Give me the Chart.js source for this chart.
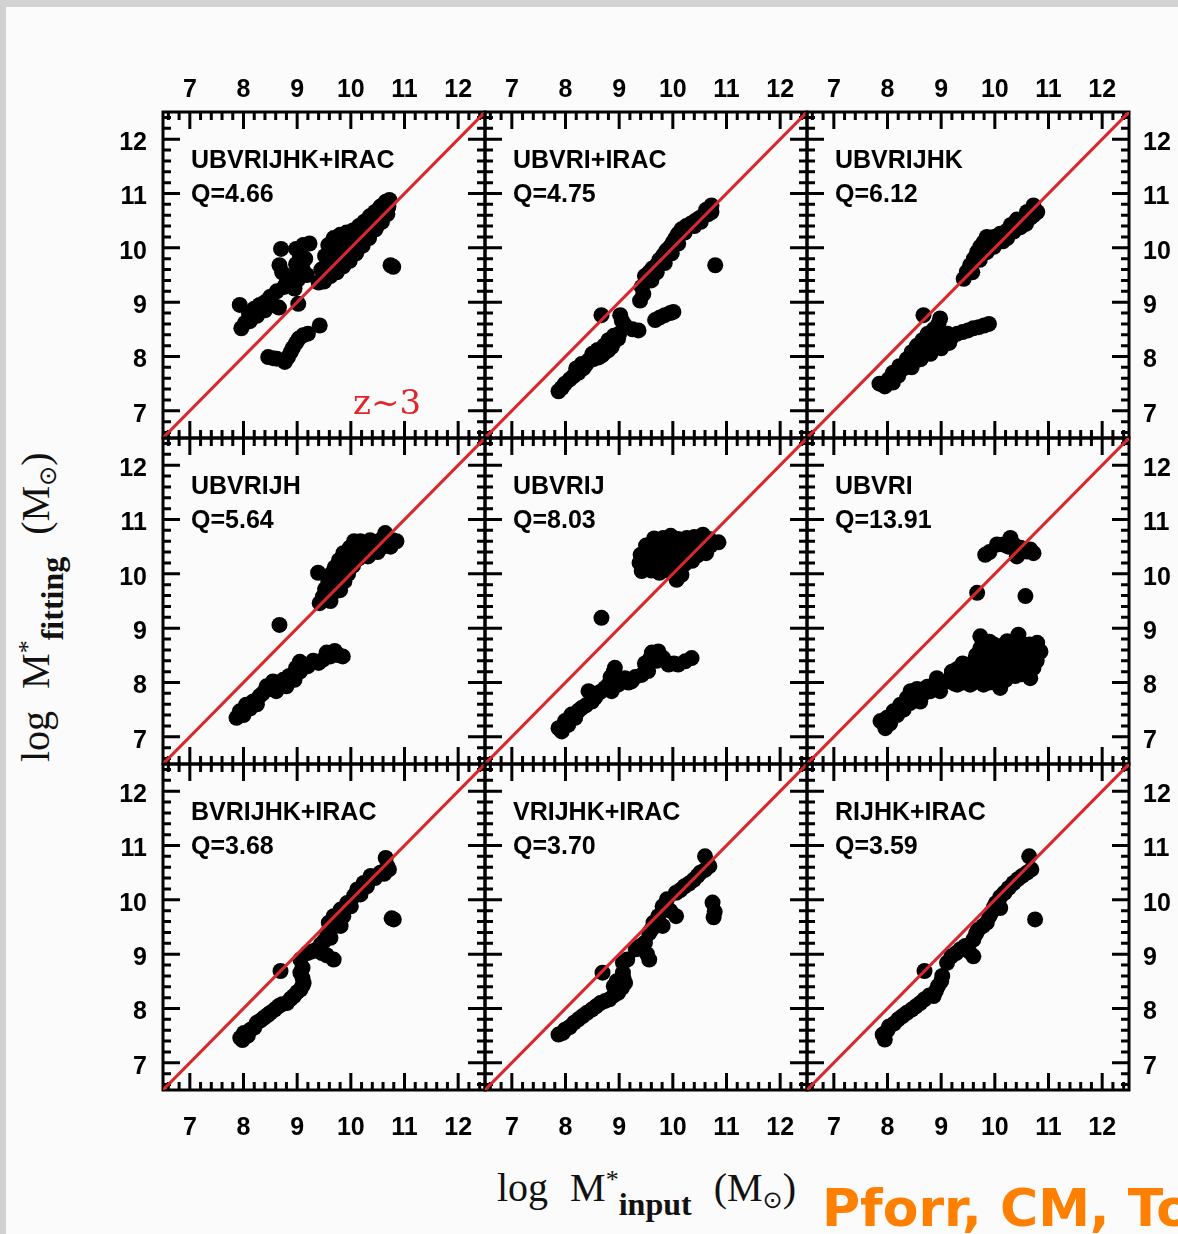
<!DOCTYPE html>
<html>
<head>
<meta charset="utf-8">
<script src="https://cdn.jsdelivr.net/npm/chart.js@4.4.1/dist/chart.umd.min.js"></script>
<style>
  html, body { margin: 0; padding: 0; }
  body { width: 1178px; height: 1234px; background: #d2d2d2; position: relative; overflow: hidden; }
  #sheet { position: absolute; left: 6px; top: 7px; width: 1172px; height: 1227px; background: #fbfbfb; }
  canvas { position: absolute; }
  .axtitle { position: absolute; font-family: 'Liberation Serif', 'Times New Roman', serif; font-size: 40px; line-height: 40px; word-spacing: 12px; color: #111; white-space: nowrap; }
  .axtitle .sup { font-size: 26px; line-height: 0; vertical-align: 13px; }
  .axtitle .sub { font-size: 32px; line-height: 0; vertical-align: -14px; font-weight: bold; }
  .axtitle .sun { font-family: 'DejaVu Sans', sans-serif; font-size: 24px; font-weight: normal; vertical-align: -7px; }
  #xtitle { left: 497px; top: 1168px; }
  #ytitle { left: 16px; top: 762px; transform: rotate(-90deg); transform-origin: 0 0; }
  #credit { position: absolute; left: 822px; top: 1182px; font-family: 'DejaVu Sans', sans-serif; font-weight: bold; font-size: 52px; line-height: 52px; color: #ff7f00; white-space: nowrap; }
</style>
</head>
<body>
<div id="sheet"></div>
<div id="xtitle" class="axtitle">log M<span class="sup">*</span><span class="sub">input</span> (M<span class="sub sun">⊙</span>)</div>
<div id="ytitle" class="axtitle">log M<span class="sup">*</span><span class="sub">fitting</span> (M<span class="sub sun">⊙</span>)</div>
<div id="credit">Pforr, CM, Tonini</div>
<script>
// axis ticks (log M, both axes)
const xTicks = [7, 8, 9, 10, 11, 12];
const yTicks = [7, 8, 9, 10, 11, 12];
const minorTicks = [6.6, 6.8, 7.2, 7.4, 7.6, 7.8, 8.2, 8.4, 8.6, 8.8, 9.2, 9.4, 9.6, 9.8,
  10.2, 10.4, 10.6, 10.8, 11.2, 11.4, 11.6, 11.8, 12.2, 12.4];
const axisMin = 6.5, axisMax = 12.5;
const oneToOne = [6.5, 12.5];

// filter sets and quality values, row by row
const filterSets = ['UBVRIJHK+IRAC', 'UBVRI+IRAC', 'UBVRIJHK',
  'UBVRIJH', 'UBVRIJ', 'UBVRI',
  'BVRIJHK+IRAC', 'VRIJHK+IRAC', 'RIJHK+IRAC'];
const qValues = ['4.66', '4.75', '6.12', '5.64', '8.03', '13.91', '3.68', '3.70', '3.59'];

// [log M* input, log M* fitting] pairs
const p1 = [
  [9.45,9.60],[9.52,9.85],[9.58,10.05],[9.68,10.18],[9.80,10.24],[9.92,10.28],[10.04,10.32],[10.15,10.40],[10.25,10.48],[10.35,10.58],
  [10.45,10.66],[10.55,10.76],[10.65,10.85],[10.72,10.88],[9.40,9.36],[9.50,9.50],[9.60,9.72],[9.70,9.92],[9.80,10.04],[9.92,10.12],
  [10.04,10.18],[10.15,10.26],[10.28,10.36],[10.40,10.46],[10.52,10.56],[10.62,10.66],[10.70,10.76],[9.50,9.38],[9.62,9.48],[9.74,9.55],
  [9.86,9.66],[9.98,9.76],[10.10,9.90],[10.22,10.04],[10.34,10.18],[10.46,10.34],[10.58,10.48],[10.68,10.62],[9.62,9.58],[9.75,9.78],
  [9.88,9.90],[10.00,9.98],[10.12,10.08],[10.25,10.20],[10.38,10.30],[10.50,10.42],[10.79,9.65],[10.74,9.68],
  [8.70,9.98],[8.67,9.68],[8.72,9.55],[8.98,9.98],[9.11,10.05],[9.23,10.08],[9.05,9.85],[9.15,9.80],[8.98,9.70],[9.10,9.62],
  [9.18,9.50],[9.02,9.42],[8.90,9.48],[8.80,9.35],[8.95,9.25],[8.76,9.28],[8.62,9.20],[8.50,9.10],[8.40,9.00],[8.30,8.95],
  [8.20,8.88],[8.10,8.80],[8.25,8.75],[8.12,8.65],[7.93,8.95],[7.96,8.52],[8.03,8.62],[8.40,8.85],[8.55,8.95],[8.66,8.90],
  [9.02,8.97],[9.42,8.57],[9.20,8.42],[9.11,8.39],[9.03,8.33],[8.98,8.25],[8.92,8.16],[8.88,8.08],[8.83,7.99],[8.77,7.90],
  [8.46,7.99],[8.55,7.97],[8.62,7.96]
];
const p2 = [
  [9.39,9.03],[9.45,9.15],[9.42,9.28],[9.50,9.38],[9.48,9.48],[9.56,9.55],[9.62,9.62],[9.70,9.68],[9.75,9.78],[9.82,9.86],
  [9.88,9.95],[9.95,10.02],[10.00,10.10],[10.05,10.18],[10.10,10.26],[10.16,10.34],[10.25,10.40],[10.34,10.45],[10.42,10.50],[10.50,10.55],
  [10.58,10.60],[10.66,10.62],[10.72,10.66],[10.72,10.78],[10.62,10.70],[10.52,10.48],[10.40,10.40],[10.22,10.28],[9.60,9.40],[9.70,9.55],
  [9.85,9.72],[9.98,9.90],[10.10,10.08],[10.79,9.68],
  [8.67,8.76],[9.02,8.76],[9.05,8.66],[9.11,8.57],[9.25,8.50],[9.36,8.48],[9.67,8.67],[9.76,8.72],[9.85,8.76],[9.95,8.80],
  [10.01,8.82],[9.00,8.42],[8.98,8.33],[8.90,8.26],[8.86,8.18],[8.80,8.12],[8.74,8.08],[8.68,8.02],[8.61,7.98],[8.52,7.95],
  [8.43,7.93],[8.38,7.85],[8.33,7.78],[8.24,7.70],[8.15,7.64],[8.08,7.58],[7.99,7.50],[7.93,7.42],[7.87,7.36],[8.72,8.20],
  [8.60,8.12],[8.50,8.05],[8.80,8.30],[8.90,8.38],[8.30,7.86],[8.20,7.78]
];
const p3 = [
  [9.42,9.43],[9.48,9.56],[9.54,9.68],[9.58,9.55],[9.61,9.80],[9.67,9.92],[9.72,9.78],[9.73,10.02],[9.79,10.10],[9.85,9.92],
  [9.85,10.20],[9.92,10.05],[9.98,10.20],[9.98,10.02],[10.05,10.15],[10.10,10.26],[10.15,10.12],[10.23,10.32],[10.23,10.18],[10.30,10.42],
  [10.35,10.30],[10.41,10.52],[10.48,10.38],[10.54,10.54],[10.58,10.44],[10.66,10.55],[10.60,10.66],[10.72,10.78],[10.79,10.66],[10.72,10.60],
  [7.85,7.50],[7.95,7.45],[8.02,7.58],[8.10,7.52],[8.10,7.70],[8.20,7.65],[8.22,7.82],[8.30,7.78],[8.36,7.95],[8.42,7.88],
  [8.45,8.08],[8.52,8.00],[8.55,8.20],[8.62,8.12],[8.65,8.30],[8.72,8.22],[8.75,8.42],[8.82,8.35],[8.86,8.50],[8.92,8.28],
  [8.95,8.60],[9.00,8.45],[9.05,8.35],[8.67,8.76],[8.98,8.70],[9.12,8.42],[9.20,8.36],[9.30,8.42],[9.40,8.45],[9.50,8.48],
  [9.60,8.52],[9.70,8.54],[9.80,8.57],[9.89,8.60],[9.00,8.15],[8.80,8.05],[8.62,7.95],[8.45,7.80],[9.15,8.25]
];
const p4 = [
  [9.39,10.02],[9.42,9.46],[9.48,9.58],[9.52,9.72],[9.58,9.86],[9.62,9.50],[9.64,10.00],[9.68,9.66],[9.70,10.12],[9.72,9.82],
  [9.76,9.96],[9.78,10.25],[9.80,9.70],[9.84,10.10],[9.86,10.38],[9.88,9.86],[9.92,10.22],[9.95,10.00],[9.98,10.48],[10.00,10.34],
  [10.04,10.15],[10.06,10.60],[10.10,10.46],[10.14,10.28],[10.18,10.60],[10.22,10.40],[10.28,10.55],[10.32,10.32],[10.36,10.62],[10.40,10.46],
  [10.46,10.58],[10.50,10.40],[10.55,10.62],[10.60,10.50],[10.64,10.75],[10.70,10.58],[10.78,10.62],[10.85,10.60],[10.74,10.50],
  [8.67,9.06],
  [7.87,7.35],[7.93,7.47],[8.00,7.40],[8.05,7.59],[8.12,7.52],[8.18,7.65],[8.25,7.60],[8.30,7.75],[8.36,7.80],[8.43,7.93],
  [8.50,7.88],[8.55,8.02],[8.61,7.84],[8.66,7.98],[8.74,8.05],[8.80,7.93],[8.85,8.12],[8.92,8.14],[8.98,8.27],[9.05,8.20],
  [9.11,8.33],[9.20,8.30],[9.30,8.40],[9.40,8.36],[9.48,8.42],[9.55,8.55],[9.62,8.48],[9.70,8.58],[9.78,8.50],[9.85,8.48],
  [9.05,8.38],[8.95,8.05]
];
const p5 = [
  [9.65,10.65],[9.82,10.66],[9.96,10.70],[10.10,10.64],[10.26,10.66],[10.40,10.68],[10.56,10.72],[10.68,10.64],
  [9.50,10.52],[9.64,10.48],[9.80,10.52],[9.94,10.46],[10.12,10.52],[10.26,10.48],[10.40,10.54],[10.55,10.46],[10.70,10.52],[10.85,10.58],
  [9.40,10.35],[9.56,10.34],[9.70,10.38],[9.86,10.32],[10.00,10.36],[10.16,10.30],[10.30,10.36],[10.46,10.34],[10.62,10.38],
  [9.38,10.20],[9.52,10.22],[9.66,10.18],[9.80,10.22],[9.94,10.16],[10.08,10.22],[10.22,10.18],[10.36,10.24],
  [9.42,10.05],[9.60,10.06],[9.75,10.02],[9.92,10.06],[10.07,9.89],[10.16,9.98],
  [8.67,9.19],
  [7.87,7.16],[7.93,7.10],[7.99,7.29],[8.05,7.22],[8.11,7.41],[8.18,7.35],[8.24,7.48],[8.30,7.53],[8.38,7.58],[8.43,7.84],
  [8.49,7.65],[8.55,7.72],[8.61,7.80],[8.67,7.84],[8.74,7.90],[8.80,7.96],[8.86,7.84],[8.92,8.27],[8.95,8.10],[8.98,7.96],
  [9.05,8.05],[9.11,8.08],[9.17,8.00],[9.23,8.02],[9.30,8.10],[9.42,8.14],[9.54,8.21],[9.48,8.35],[9.58,8.45],[9.61,8.55],
  [9.73,8.57],[9.70,8.40],[9.82,8.45],[9.92,8.33],[10.02,8.35],[10.10,8.33],[10.23,8.39],[10.35,8.45],[8.90,8.20],[8.84,8.10]
];
const p6 = [
  [9.82,10.35],[9.90,10.40],[10.04,10.54],[10.16,10.54],[10.29,10.66],[10.25,10.50],[10.35,10.54],[10.41,10.32],[10.48,10.48],[10.60,10.41],
  [10.72,10.38],[10.66,10.45],[9.67,9.65],[10.57,9.59],
  [7.87,7.29],[7.96,7.16],[7.99,7.35],[8.05,7.25],[8.11,7.47],[8.18,7.40],[8.24,7.59],[8.30,7.50],[8.36,7.71],[8.42,7.62],
  [8.43,7.84],[8.50,7.75],[8.55,7.88],[8.61,7.65],[8.61,7.84],[8.68,7.80],[8.74,7.92],[8.80,7.84],[8.86,7.95],[8.92,8.08],
  [8.98,7.84],[9.00,7.98],[9.11,8.02],[9.18,8.10],[9.23,8.08],[9.30,7.96],[9.36,8.08],[9.42,8.20],[9.48,8.21],[9.50,8.05],
  [9.54,7.96],[9.61,8.39],[9.62,8.15],[9.70,8.28],[9.73,8.14],[9.73,8.63],[9.73,8.85],[9.79,7.96],[9.85,8.45],[9.86,8.25],
  [9.92,8.60],[9.98,8.70],[9.98,8.21],[10.04,8.38],[10.10,8.51],[10.10,7.90],[10.16,8.28],[10.23,8.76],[10.23,8.27],[10.30,8.45],
  [10.35,8.57],[10.38,8.12],[10.44,8.88],[10.48,8.33],[10.54,8.70],[10.60,8.57],[10.62,8.20],[10.66,8.08],[10.72,8.27],[10.72,8.45],
  [10.79,8.73],[10.85,8.57],[10.78,8.40],
  [9.20,8.20],[9.30,8.25],[9.40,8.35],[9.55,8.30],[9.65,8.50],[9.80,8.60],[9.90,8.75],[10.05,8.62],[10.15,8.68],[10.30,8.70],
  [10.40,8.72],[10.50,8.60],[10.65,8.70],[10.70,8.60],[10.80,8.55],[10.60,8.40],[10.50,8.45],[10.40,8.40],[10.20,8.40],[10.00,8.50],
  [9.90,8.35],[9.80,8.15],[9.60,8.00],[9.40,8.00],[9.25,7.98],[10.30,8.15],[10.50,8.15],[10.20,8.05],[10.00,8.05],[9.90,8.00],
  [10.55,8.30],[10.65,8.50]
];
const p7 = [
  [7.94,7.46],[8.01,7.55],[7.98,7.42],[8.08,7.50],[8.13,7.61],[8.20,7.65],[8.25,7.74],[8.32,7.78],[8.38,7.83],[8.45,7.88],
  [8.50,7.92],[8.58,7.98],[8.65,8.04],[8.72,8.08],[8.81,8.10],[8.88,8.18],[8.94,8.23],[9.00,8.30],[9.06,8.35],[9.10,8.42],
  [9.12,8.47],[9.10,8.56],[9.06,8.66],[9.10,8.75],[8.69,8.69],[9.06,8.90],[9.19,9.02],[9.28,9.05],[9.37,9.09],[9.46,9.02],
  [9.55,8.98],[9.68,8.90],[9.44,9.18],[9.50,9.24],[9.56,9.39],[9.62,9.30],[9.59,9.58],[9.68,9.70],[9.72,9.52],[9.81,9.52],
  [9.81,9.82],[9.86,9.70],[9.93,9.94],[10.00,9.88],[10.06,10.07],[10.12,10.19],[10.18,10.10],[10.24,10.31],[10.30,10.25],[10.37,10.44],
  [10.45,10.40],[10.55,10.50],[10.62,10.48],[10.71,10.56],[10.65,10.77],[10.68,10.62],[10.80,9.64],[10.76,9.66]
];
const p8 = [
  [7.87,7.52],[7.95,7.55],[7.99,7.61],[8.08,7.66],[8.16,7.74],[8.24,7.80],[8.32,7.86],[8.40,7.92],[8.49,7.98],[8.57,8.04],
  [8.65,8.10],[8.74,8.14],[8.82,8.17],[8.90,8.24],[8.98,8.29],[9.05,8.38],[9.11,8.47],[9.08,8.56],[9.07,8.66],[8.69,8.66],
  [9.07,8.84],[9.15,8.90],[9.31,9.09],[9.40,9.15],[9.48,9.21],[9.56,8.90],[9.52,9.00],[9.56,9.39],[9.64,9.58],[9.60,9.45],
  [9.73,9.70],[9.81,9.52],[9.81,9.88],[9.89,10.01],[9.95,9.80],[10.06,9.70],[10.06,10.13],[10.14,10.18],[10.22,10.25],[10.30,10.30],
  [10.39,10.37],[10.46,10.44],[10.51,10.50],[10.60,10.55],[10.68,10.62],[10.60,10.80],[10.74,9.95],[10.78,9.78],[10.76,9.68],[8.90,8.41],
  [8.95,8.50]
];
const p9 = [
  [7.91,7.52],[7.95,7.43],[8.00,7.60],[8.03,7.67],[8.12,7.72],[8.20,7.80],[8.28,7.86],[8.36,7.92],[8.45,7.98],[8.53,8.04],
  [8.61,8.10],[8.69,8.17],[8.78,8.24],[8.86,8.23],[8.90,8.32],[8.94,8.41],[9.00,8.50],[9.02,8.60],[8.69,8.69],[9.11,8.84],
  [9.19,8.96],[9.28,9.02],[9.36,9.09],[9.45,9.15],[9.60,8.96],[9.52,9.05],[9.60,9.27],[9.65,9.38],[9.69,9.45],[9.78,9.52],
  [9.85,9.58],[9.90,9.70],[9.93,9.76],[9.98,9.86],[10.02,9.94],[10.10,10.05],[10.18,10.13],[10.26,10.22],[10.35,10.31],[10.43,10.38],
  [10.51,10.44],[10.60,10.50],[10.68,10.56],[10.64,10.80],[10.75,9.64],[10.10,9.85]
];
const panelPoints = [p1, p2, p3, p4, p5, p6, p7, p8, p9];

// page geometry of the 3x3 grid of frames
const colLeft = [163, 485, 807];
const rowTop = [112, 438, 764];
const panelW = 322, panelH = 326;
const M = 70; // room around each frame for tick labels

const labelFont = { family: "'Liberation Sans', Arial, sans-serif", weight: 'bold', size: 25 };

// box with inward major/minor ticks on all four sides
const frameTicks = {
  id: 'frameTicks',
  beforeDatasetsDraw(chart) {
    const { ctx, chartArea: a, scales: { x, y } } = chart;
    ctx.save();
    ctx.strokeStyle = '#000';
    ctx.lineWidth = 3;
    ctx.beginPath();
    const markX = (v, len) => {
      const px = x.getPixelForValue(v);
      ctx.moveTo(px, a.top); ctx.lineTo(px, a.top + len);
      ctx.moveTo(px, a.bottom); ctx.lineTo(px, a.bottom - len);
    };
    const markY = (v, len) => {
      const py = y.getPixelForValue(v);
      ctx.moveTo(a.left, py); ctx.lineTo(a.left + len, py);
      ctx.moveTo(a.right, py); ctx.lineTo(a.right - len, py);
    };
    minorTicks.forEach(v => { markX(v, 8); markY(v, 8); });
    xTicks.forEach(v => markX(v, 17));
    yTicks.forEach(v => markY(v, 17));
    ctx.stroke();
    ctx.strokeRect(a.left, a.top, a.width, a.height);
    ctx.restore();
  }
};

// filter set name, Q value and the redshift note
const panelText = {
  id: 'panelText',
  afterDatasetsDraw(chart, args, opts) {
    const { ctx, chartArea: a } = chart;
    ctx.save();
    ctx.fillStyle = '#000';
    ctx.textAlign = 'left';
    ctx.textBaseline = 'alphabetic';
    ctx.font = "bold 25px 'Liberation Sans', Arial, sans-serif";
    ctx.fillText(opts.name, a.left + 28, a.top + 56);
    ctx.fillText('Q=' + opts.q, a.left + 28, a.top + 90);
    if (opts.note) {
      ctx.fillStyle = '#e0262a';
      ctx.font = "34px 'DejaVu Serif', serif";
      ctx.fillText(opts.note, a.left + 190, a.top + 302);
    }
    ctx.restore();
  }
};

for (let i = 0; i < 9; i++) {
  const row = Math.floor(i / 3), col = i % 3;
  const canvas = document.createElement('canvas');
  canvas.width = panelW + 2 * M;
  canvas.height = panelH + 2 * M;
  canvas.style.left = (colLeft[col] - M) + 'px';
  canvas.style.top = (rowTop[row] - M) + 'px';
  document.body.appendChild(canvas);

  const xPos = row === 0 ? 'top' : 'bottom';
  const yPos = col === 2 ? 'right' : 'left';

  new Chart(canvas, {
    type: 'scatter',
    data: {
      datasets: [
        {
          type: 'line',
          data: oneToOne.map(v => ({ x: v, y: v })),
          borderColor: '#d8282c',
          borderWidth: 3,
          pointRadius: 0,
          fill: false
        },
        {
          data: panelPoints[i].map(p => ({ x: p[0], y: p[1] })),
          backgroundColor: '#000',
          borderWidth: 0,
          pointRadius: 8,
          pointHoverRadius: 8
        }
      ]
    },
    options: {
      responsive: false,
      animation: false,
      devicePixelRatio: 1,
      events: [],
      layout: {
        padding: {
          top: xPos === 'top' ? 0 : M,
          bottom: xPos === 'bottom' ? 0 : M,
          left: yPos === 'left' ? 0 : M,
          right: yPos === 'right' ? 0 : M
        }
      },
      plugins: {
        legend: { display: false },
        tooltip: { enabled: false },
        panelText: { name: filterSets[i], q: qValues[i], note: i === 0 ? 'z~3' : '' }
      },
      scales: {
        x: {
          type: 'linear',
          min: axisMin,
          max: axisMax,
          position: xPos,
          grid: { display: false, drawTicks: false },
          border: { display: false },
          ticks: { display: row !== 1, font: labelFont, color: '#000', padding: row === 0 ? 7 : 23 },
          afterBuildTicks: s => { s.ticks = xTicks.map(v => ({ value: v })); },
          afterFit: s => { s.height = M; }
        },
        y: {
          type: 'linear',
          min: axisMin,
          max: axisMax,
          position: yPos,
          grid: { display: false, drawTicks: false },
          border: { display: false },
          ticks: { display: col !== 1, font: labelFont, color: '#000', padding: col === 0 ? 16 : 14, labelOffset: 4 },
          afterBuildTicks: s => { s.ticks = yTicks.map(v => ({ value: v })); },
          afterFit: s => { s.width = M; }
        }
      }
    },
    plugins: [frameTicks, panelText]
  });
}
</script>
</body>
</html>
